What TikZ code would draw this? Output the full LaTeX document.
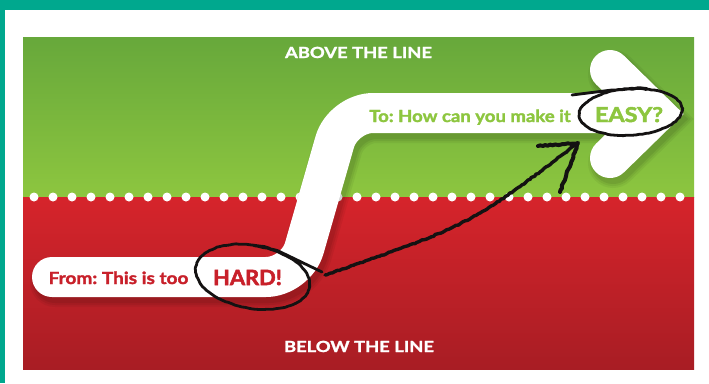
\documentclass[tikz,border=0pt]{standalone}
\usepackage{fontspec}
\setmainfont{Lato}
\frenchspacing
\usetikzlibrary{decorations.pathmorphing}
\definecolor{frameteal}{RGB}{0,168,142}
\definecolor{gtop}{RGB}{103,168,59}
\definecolor{gbot}{RGB}{141,198,63}
\definecolor{rtop}{RGB}{214,36,43}
\definecolor{rbot}{RGB}{168,29,36}
\definecolor{txtgreen}{RGB}{141,198,63}
\definecolor{txtred}{RGB}{200,32,42}
\definecolor{ink}{RGB}{20,18,18}
\newcommand{\heavyfont}[3]{\bfseries\fontsize{#1}{#1}\selectfont\addfontfeatures{FakeBold=#3,FakeStretch=#2}}
\tikzset{
  band/.style={line width=40pt, rounded corners=30pt, line cap=round, line join=round},
  chev/.style={line width=40pt, line cap=round, line join=miter},
  inkline/.style={draw=ink, line width=2.8pt, line cap=round, line join=round},
  marker/.style={inkline, decorate, decoration={random steps, segment length=2.5pt, amplitude=0.6pt}},
  heading/.style={anchor=base, inner sep=0pt, text=white, font=\heavyfont{15.3}{1.2}{1.6}},
  small/.style={anchor=base, inner sep=0pt, font=\heavyfont{16.7}{1.14}{1.8}},
  big/.style={anchor=base, inner sep=0pt},
}
\begin{document}
\begin{tikzpicture}[x=1pt,y=-1pt]
\useasboundingbox (0,0) rectangle (709,383);
\fill[white] (0,0) rectangle (709,383);
\fill[frameteal] (0,0) rectangle (709,10);
\fill[frameteal] (0,0) rectangle (4.5,383);
% panels
\shade[top color=gtop, bottom color=gbot] (23,37) rectangle (694,197);
\shade[top color=rtop, bottom color=rbot] (23,197) rectangle (694,369);
% dots
\foreach \i in {0,...,34} \fill[white] ({34+19*\i},197) circle[radius=4.5pt];
% shadow of the arrow
\foreach \w/\o in {50/0.05,46/0.06,42/0.07} {
  \begin{scope}[shift={(3,5)}]
    \draw[black, opacity=\o, band, line width=\w pt] (52,277) -- (296,277) -- (343,113) -- (640,113);
    \draw[black, opacity=\o, chev, line width=\w pt] (610,70) -- (655,114) -- (610,158);
  \end{scope}
}
% white arrow
\draw[white, band] (52,277) -- (296,277) -- (343,113) -- (640,113);
\draw[white, chev] (610,70) -- (655,114) -- (610,158);
% headings
\node[heading] (above) at (358.5,58) {ABOVE THE LINE};
\node[heading] (below) at (359,352) {BELOW THE LINE};
% texts
\node[small, text=txtred] (from) at (118.5,284) {From: This is too};
\node[big, text=txtred, font=\heavyfont{21}{1.04}{2.4}] (hard) at (247.5,285) {HARD!};
\node[small, text=txtgreen, font=\heavyfont{16.7}{1.11}{1.8}] (to) at (470,122) {To: How can you make it};
\node[big, text=txtgreen, font=\heavyfont{20.5}{1.14}{2.4}] (easy) at (629,122) {EASY?};
% hand-drawn loop around HARD!
\draw[inkline] plot[samples=110, domain=-95:290, variable=\t]
  ({253+(57*cos(\t)*cos(10) - 31*sin(\t)*sin(10))*(1+0.00008*(\t+95))+0.35*rand},
   {277+(57*cos(\t)*sin(10) + 31*sin(\t)*cos(10))*(1+0.00008*(\t+95))+0.35*rand})
  -- (322,272);
% hand-drawn loop around EASY?
\draw[inkline] (572,95) -- (612,90) -- plot[samples=110, domain=-100:290, variable=\t]
  ({631+(51*cos(\t)*cos(-4) - 23*sin(\t)*sin(-4))*(1+0.00008*(\t+100))+0.35*rand},
   {112+(51*cos(\t)*sin(-4) + 23*sin(\t)*cos(-4))*(1+0.00008*(\t+100))+0.35*rand});
% hand-drawn arrow
\coordinate (aS) at (325,275);
\coordinate (aT) at (578,143);
\coordinate (bL) at (538,146);
\coordinate (bD) at (560,192);
\draw[marker, line width=3.4pt] (aS) .. controls (470,225) .. (aT);
\draw[marker, line width=4pt] (bL) -- (aT) -- (bD);
\end{tikzpicture}
\end{document}
